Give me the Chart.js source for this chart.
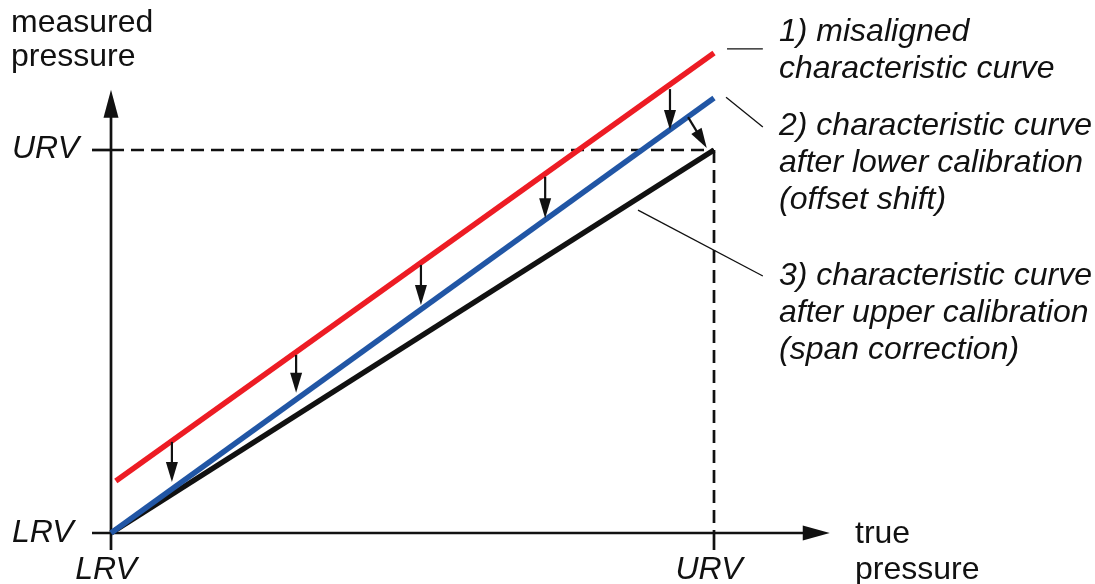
<!DOCTYPE html>
<html><head><meta charset="utf-8">
<script src="https://cdn.jsdelivr.net/npm/chart.js@4.4.0/dist/chart.umd.min.js"></script>
<style>html,body{margin:0;padding:0;background:#fff}#wrap{width:1095px;height:584px;position:relative}</style>
</head><body><div id="wrap"><canvas id="c"></canvas></div>
<script>
// ---- data ----
const tickValues = [0, 1];
const tickLabels = ['LRV', 'URV'];
const misalignedX = [0.008, 1];
const misalignedY = [0.136, 1.253];
const lowerCalX = [0, 1];
const lowerCalY = [0, 1.136];
const upperCalX = [0, 1];
const upperCalY = [0, 1];
const shiftX = [0.101, 0.307, 0.514, 0.720, 0.927];
const shiftFrom = [0.238, 0.465, 0.700, 0.930, 1.159];
const shiftTo = [0.133, 0.366, 0.595, 0.822, 1.052];
const spanArrowX = [0.957, 0.988];
const spanArrowY = [1.086, 1.005];
const axisTitleY = ['measured', 'pressure'];
const axisTitleX = ['true', 'pressure'];
const curveNotes = [
  ['1) misaligned', 'characteristic curve'],
  ['2) characteristic curve', 'after lower calibration', '(offset shift)'],
  ['3) characteristic curve', 'after upper calibration', '(span correction)']
];

const FONT = '"Liberation Sans", Arial, Helvetica, sans-serif';
const INK = '#111111';
function pts(xs, ys) { return xs.map((x, i) => ({x: x, y: ys[i]})); }

function head(ctx, x1, y1, x2, y2, len, half) {
  const a = Math.atan2(y2 - y1, x2 - x1);
  const bx = x2 - len * Math.cos(a), by = y2 - len * Math.sin(a);
  ctx.beginPath();
  ctx.moveTo(x2, y2);
  ctx.lineTo(bx + half * Math.sin(a), by - half * Math.cos(a));
  ctx.lineTo(bx - half * Math.sin(a), by + half * Math.cos(a));
  ctx.closePath();
  ctx.fill();
}
function arrow(ctx, x1, y1, x2, y2, w, len, half) {
  const a = Math.atan2(y2 - y1, x2 - x1);
  ctx.beginPath();
  ctx.lineWidth = w;
  ctx.moveTo(x1, y1);
  ctx.lineTo(x2 - (len - 2) * Math.cos(a), y2 - (len - 2) * Math.sin(a));
  ctx.stroke();
  head(ctx, x1, y1, x2, y2, len, half);
}

const decor = {
  id: 'decor',
  beforeDatasetsDraw(chart) {
    const ctx = chart.ctx, xs = chart.scales.x, ys = chart.scales.y;
    const x0 = xs.getPixelForValue(0), y0 = ys.getPixelForValue(0);
    const x1 = xs.getPixelForValue(1), y1 = ys.getPixelForValue(1);
    ctx.save();
    ctx.strokeStyle = INK; ctx.fillStyle = INK; ctx.lineWidth = 2.7; ctx.lineCap = 'butt';
    // x axis
    const xTip = xs.getPixelForValue(1.192);
    ctx.beginPath(); ctx.moveTo(x0 - 19, y0); ctx.lineTo(xTip - 20, y0); ctx.stroke();
    head(ctx, x0, y0, xTip, y0, 27, 7.5);
    // y axis
    const yTip = ys.getPixelForValue(1.157);
    ctx.beginPath(); ctx.moveTo(x0, y0 + 17); ctx.lineTo(x0, yTip + 20); ctx.stroke();
    head(ctx, x0, y0, x0, yTip, 28, 7.5);
    // URV ticks
    ctx.beginPath(); ctx.moveTo(x0 - 19, y1); ctx.lineTo(x0, y1); ctx.stroke();
    ctx.beginPath(); ctx.moveTo(x1, y0); ctx.lineTo(x1, y0 + 17); ctx.stroke();
    ctx.restore();
  },
  afterDatasetsDraw(chart) {
    const ctx = chart.ctx, xs = chart.scales.x, ys = chart.scales.y;
    ctx.save();
    ctx.strokeStyle = INK; ctx.fillStyle = INK;
    // offset shift arrows
    shiftX.forEach((v, i) => {
      const px = xs.getPixelForValue(v);
      arrow(ctx, px, ys.getPixelForValue(shiftFrom[i]), px, ys.getPixelForValue(shiftTo[i]), 2.2, 20, 6);
    });
    // span correction arrow
    arrow(ctx, xs.getPixelForValue(spanArrowX[0]), ys.getPixelForValue(spanArrowY[0]),
          xs.getPixelForValue(spanArrowX[1]), ys.getPixelForValue(spanArrowY[1]), 2.2, 20, 6);
    // leader lines
    ctx.lineWidth = 1.3;
    const leaders = [[1.0216, 1.264, 1.081, 1.264], [1.020, 1.138, 1.081, 1.060], [0.874, 0.843, 1.081, 0.671]];
    leaders.forEach(l => {
      ctx.beginPath();
      ctx.moveTo(xs.getPixelForValue(l[0]), ys.getPixelForValue(l[1]));
      ctx.lineTo(xs.getPixelForValue(l[2]), ys.getPixelForValue(l[3]));
      ctx.stroke();
    });
    // notes
    ctx.font = 'italic 32px ' + FONT;
    ctx.textAlign = 'left'; ctx.textBaseline = 'alphabetic';
    const noteTop = [41, 135, 285];
    curveNotes.forEach((lines, k) => {
      lines.forEach((t, j) => ctx.fillText(t, 779, noteTop[k] + j * 37));
    });
    // tick labels
    const yBase = [542, 158];
    tickValues.forEach((v, i) => {
      ctx.textAlign = 'left';
      ctx.fillText(tickLabels[i], 12, yBase[i]);
      ctx.textAlign = 'center';
      ctx.fillText(tickLabels[i], xs.getPixelForValue(v) - 5, 579);
    });
    // axis titles
    ctx.font = '32px ' + FONT;
    ctx.textAlign = 'left';
    axisTitleY.forEach((t, j) => ctx.fillText(t, 11, 32 + j * 34));
    axisTitleX.forEach((t, j) => ctx.fillText(t, 855, 543 + j * 36));
    ctx.restore();
  }
};

const line = (data, color, width, order, dash) => ({
  data: data, showLine: true, borderColor: color, backgroundColor: color,
  borderWidth: width, pointRadius: 0, clip: false, order: order,
  borderDash: dash || [], borderCapStyle: 'butt', tension: 0
});

new Chart(document.getElementById('c'), {
  type: 'scatter',
  data: {
    datasets: [
      line(pts([0, 1], [1, 1]), INK, 2.7, 10, [13, 7]),
      line(pts([1, 1], [1, 0]), INK, 2.7, 10, [13, 7]),
      line(pts(upperCalX, upperCalY), INK, 5.5, 3),
      line(pts(lowerCalX, lowerCalY), '#2156a5', 5.5, 2),
      line(pts(misalignedX, misalignedY), '#ed1c24', 5.5, 1)
    ]
  },
  options: {
    responsive: true, maintainAspectRatio: false, animation: false, events: [],
    layout: {padding: {left: 111, right: 381, top: 150, bottom: 51}},
    plugins: {legend: {display: false}, tooltip: {enabled: false}},
    scales: {
      x: {type: 'linear', min: 0, max: 1, display: false},
      y: {type: 'linear', min: 0, max: 1, display: false}
    }
  },
  plugins: [decor]
});
</script>
</body></html>
